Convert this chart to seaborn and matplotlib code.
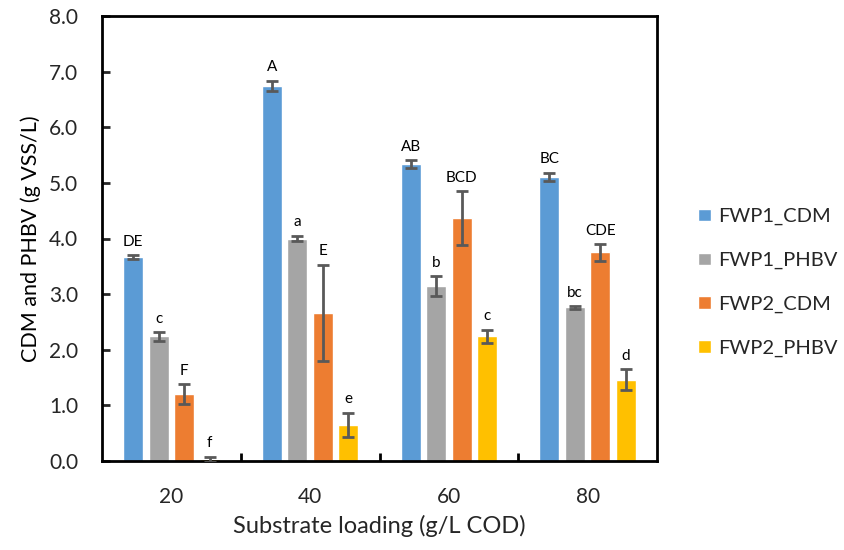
import numpy as np
import pandas as pd
import matplotlib
matplotlib.use("Agg")
import matplotlib.pyplot as plt
import seaborn as sns
from matplotlib.ticker import FixedLocator, FormatStrFormatter

loadings = ["20", "40", "60", "80"]
series = ["FWP1_CDM", "FWP1_PHBV", "FWP2_CDM", "FWP2_PHBV"]
fwp1_cdm = [3.66, 6.75, 5.34, 5.11]
fwp1_phbv = [2.24, 4.00, 3.15, 2.76]
fwp2_cdm = [1.20, 2.66, 4.37, 3.75]
fwp2_phbv = [0.03, 0.65, 2.24, 1.46]
fwp1_cdm_err = [0.035, 0.09, 0.075, 0.075]
fwp1_phbv_err = [0.08, 0.05, 0.18, 0.02]
fwp2_cdm_err = [0.18, 0.87, 0.48, 0.15]
fwp2_phbv_err = [0.05, 0.22, 0.12, 0.19]
fwp1_cdm_lbl = ["DE", "A", "AB", "BC"]
fwp1_phbv_lbl = ["c", "a", "b", "bc"]
fwp2_cdm_lbl = ["F", "E", "BCD", "CDE"]
fwp2_phbv_lbl = ["f", "e", "c", "d"]
colors = ["#5B9BD5", "#A5A5A5", "#ED7D31", "#FFC000"]

vals = [fwp1_cdm, fwp1_phbv, fwp2_cdm, fwp2_phbv]
errs = [fwp1_cdm_err, fwp1_phbv_err, fwp2_cdm_err, fwp2_phbv_err]
lbls = [fwp1_cdm_lbl, fwp1_phbv_lbl, fwp2_cdm_lbl, fwp2_phbv_lbl]

rows = []
for s, v in zip(series, vals):
    for l, x in zip(loadings, v):
        rows.append({"loading": l, "series": s, "value": x})
df = pd.DataFrame(rows)

sns.set_theme(style="white")
plt.rcParams["font.family"] = ["Lato", "DejaVu Sans"]

fig = plt.figure(figsize=(8.44, 5.5), dpi=100)
ax = fig.add_axes([102 / 844, 1 - 461 / 550, 555 / 844, 445 / 550])

sns.barplot(data=df, x="loading", y="value", hue="series", order=loadings,
            hue_order=series, palette=colors, width=0.735, gap=0.22,
            errorbar=None, saturation=1, ax=ax, legend=True)

bar_containers = list(ax.containers)
for i, cont in enumerate(bar_containers):
    for j, p in enumerate(cont.patches):
        xc = p.get_x() + p.get_width() / 2
        h = p.get_height()
        e = errs[i][j]
        ax.errorbar(xc, h, yerr=e, fmt="none", ecolor="#595959",
                    elinewidth=2, capsize=4.6, capthick=2, zorder=5)
        ax.annotate(lbls[i][j], (xc, h + e), xytext=(0, 4.5),
                    textcoords="offset points", ha="center", va="bottom",
                    fontsize=11, color="black")

ax.set_ylim(0, 8)
ax.set_xlim(-0.5, 3.5)
ax.yaxis.set_major_locator(FixedLocator(np.arange(0, 8.01, 1.0)))
ax.yaxis.set_major_formatter(FormatStrFormatter("%.1f"))
ax.xaxis.set_minor_locator(FixedLocator([0.5, 1.5, 2.5]))
ax.tick_params(axis="x", which="major", length=0, labelsize=15,
               labelcolor="#262626", pad=18.5)
ax.tick_params(axis="x", which="minor", length=6, width=2, direction="in",
               color="black", bottom=True)
ax.tick_params(axis="y", which="major", length=6, width=2, direction="in",
               labelsize=15, labelcolor="#262626", pad=17, left=True)
for sp in ax.spines.values():
    sp.set_visible(True)
    sp.set_color("black")
    sp.set_linewidth(2)

ax.set_xlabel("Substrate loading (g/L COD)", fontsize=17, color="#262626", labelpad=6)
ax.set_ylabel("CDM and PHBV (g VSS/L)", fontsize=15.5, color="black", labelpad=6)

handles, labels = ax.get_legend_handles_labels()
ax.legend(handles, labels, loc="center left", bbox_to_anchor=(1.042, 0.401),
          frameon=False, fontsize=14.5, handlelength=0.6, handleheight=0.6,
          handletextpad=0.4, labelspacing=1.32)

fig.savefig("out.png", dpi=100)
